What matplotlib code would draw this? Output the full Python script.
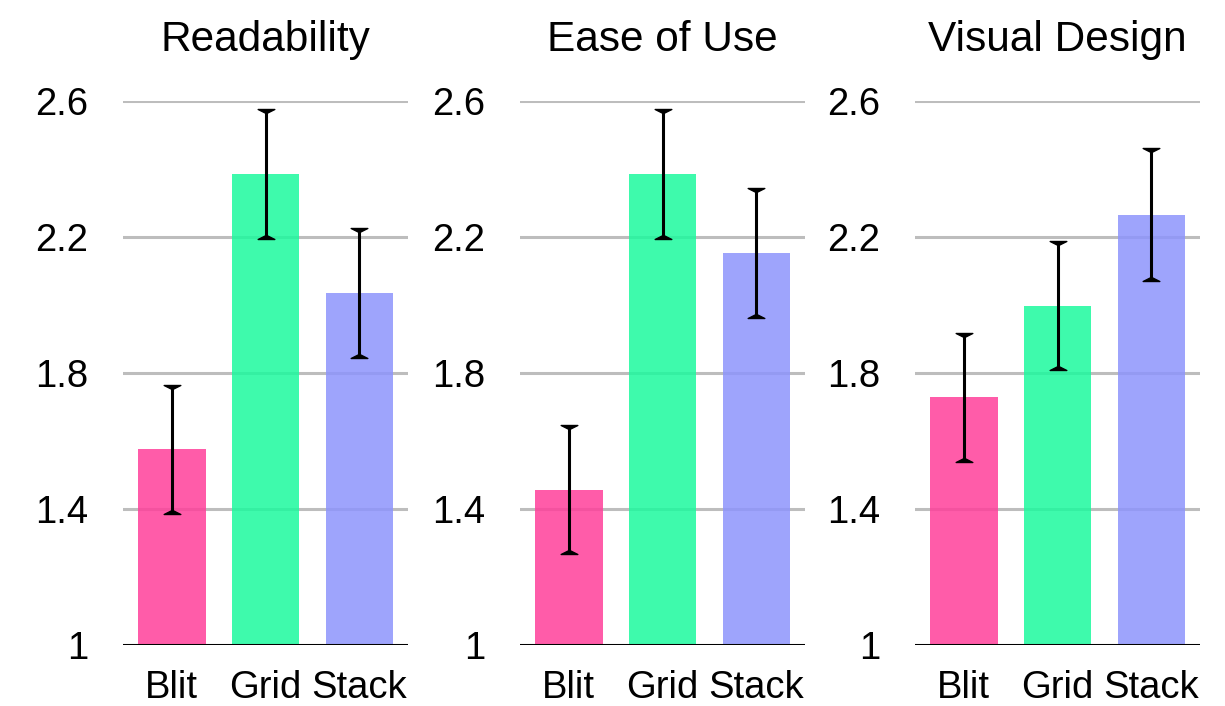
import matplotlib
matplotlib.use("Agg")
import matplotlib.pyplot as plt
import numpy as np
from matplotlib.path import Path

plt.rcParams["font.family"] = ["Liberation Sans", "DejaVu Sans"]

titles = ["Readability", "Ease of Use", "Visual Design"]
methods = ["Blit", "Grid", "Stack"]
colors = ["#ff3f9a", "#1cfa9e", "#8d94fc"]

means = {
    "Readability": [1.575, 2.385, 2.035],
    "Ease of Use": [1.457, 2.385, 2.153],
    "Visual Design": [1.729, 1.998, 2.266],
}
errors = {
    "Readability": [0.19, 0.19, 0.19],
    "Ease of Use": [0.19, 0.19, 0.19],
    "Visual Design": [0.19, 0.19, 0.195],
}

yticks = [1, 1.4, 1.8, 2.2, 2.6]
ytick_labels = ["1", "1.4", "1.8", "2.2", "2.6"]

# flat-topped arrowhead caps for the error bars
cap_down = Path([(-1, 0), (1, 0), (0, -0.5), (-1, 0)], closed=True)
cap_up = Path([(-1, 0), (1, 0), (0, 0.5), (-1, 0)], closed=True)

fig = plt.figure(figsize=(12.25, 7.06), dpi=100)
lefts = [0.1004, 0.4245, 0.747]

for left, title in zip(lefts, titles):
    ax = fig.add_axes([left, 0.0864, 0.2327, 0.7706])
    x = np.arange(len(methods))
    vals = np.array(means[title])
    err = np.array(errors[title])

    ax.bar(x, vals - 1, bottom=1, width=0.72, color=colors, alpha=0.85, zorder=2)
    ax.vlines(x, vals - err, vals + err, color="black", linewidth=2.2, zorder=4)
    ax.plot(x, vals + err, ls="none", marker=cap_down, markersize=12, color="black", zorder=5)
    ax.plot(x, vals - err, ls="none", marker=cap_up, markersize=12, color="black", zorder=5)

    for y in yticks[1:]:
        ax.axhline(y, color="#bdbdbd", linewidth=2.2, zorder=1)
    ax.axhline(1, color="black", linewidth=2.2, zorder=3)

    ax.set_xlim(-0.52, 2.52)
    ax.set_ylim(1, 2.6)
    ax.set_yticks(yticks)
    ax.set_yticklabels(ytick_labels)
    ax.set_xticks(x)
    ax.set_xticklabels(methods)
    ax.tick_params(axis="y", length=0, pad=25, labelsize=27.5)
    ax.tick_params(axis="x", length=0, pad=18, labelsize=27.5)
    for s in ax.spines.values():
        s.set_visible(False)
    ax.set_title(title, fontsize=30.5, pad=36)

fig.savefig("out.png", dpi=100)
